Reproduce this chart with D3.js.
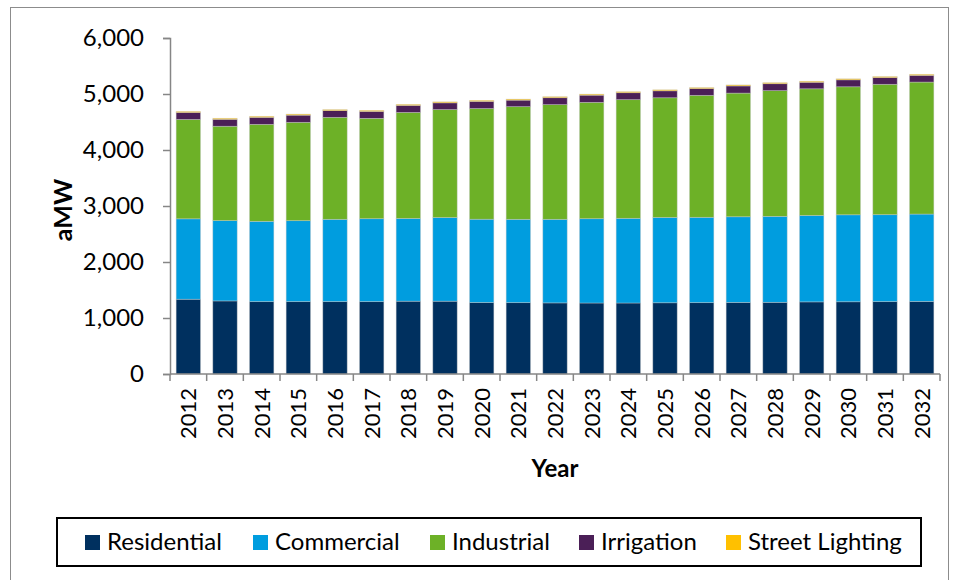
<!DOCTYPE html>
<html>
<head>
<meta charset="utf-8">
<script src="https://cdn.jsdelivr.net/npm/d3@7"></script>
<style>
  html, body { margin: 0; padding: 0; background: #fff; }
  svg { display: block; }
  text { font-family: Lato, "Open Sans", sans-serif; fill: #000; }
</style>
</head>
<body>
<svg id="chart" width="958" height="580"></svg>
<script>
const years = [2012,2013,2014,2015,2016,2017,2018,2019,2020,2021,2022,2023,2024,2025,2026,2027,2028,2029,2030,2031,2032];
const seriesNames = ["Residential","Commercial","Industrial","Irrigation","Street Lighting"];
const residential = [1335,1305,1292,1292,1292,1292,1300,1300,1276,1274,1270,1268,1268,1272,1274,1278,1280,1288,1290,1292,1296];
const commercial  = [1436,1434,1434,1446,1470,1481,1478,1494,1488,1488,1492,1505,1512,1524,1524,1530,1535,1543,1553,1553,1560];
const industrial  = [1775,1685,1732,1756,1821,1792,1893,1928,1976,2012,2048,2078,2119,2137,2178,2208,2245,2262,2286,2328,2357];
const irrigation  = [124,124,125,128,120,124,125,120,128,116,124,128,124,124,120,128,124,116,124,120,120];
const streetLighting = [18,18,18,18,18,18,18,18,18,18,18,18,18,18,18,18,18,18,18,18,18];
const yTicks = [0,1000,2000,3000,4000,5000,6000];
const colors = ["#00305f","#009ddf","#6db127","#4b1f57","#ffc000"];

const svg = d3.select("#chart");

// outer border
svg.append("rect").attr("x",10.5).attr("y",7.5).attr("width",938).attr("height",580)
  .attr("fill","none").attr("stroke","#8c8c8c").attr("stroke-width",1);

const pLeft = 170, pRight = 940, pTop = 38, pBottom = 374;
const x = d3.scaleBand().domain(years).range([pLeft, pRight]).paddingInner(0.335).paddingOuter(0.1675);
const y = d3.scaleLinear().domain([0, 6000]).range([pBottom, pTop]);

const table = years.map((yr, i) => ({
  year: yr,
  "Residential": residential[i],
  "Commercial": commercial[i],
  "Industrial": industrial[i],
  "Irrigation": irrigation[i],
  "Street Lighting": streetLighting[i]
}));
const stacked = d3.stack().keys(seriesNames)(table);

const gBars = svg.append("g");
stacked.forEach((layer, li) => {
  gBars.append("g").attr("fill", colors[li])
    .selectAll("rect").data(layer).join("rect")
    .attr("x", d => x(d.data.year))
    .attr("width", x.bandwidth())
    .attr("y", d => y(d[1]))
    .attr("height", d => y(d[0]) - y(d[1]))
    .attr("stroke", "rgba(200,200,200,0.55)")
    .attr("stroke-width", 0.75);
});

// Y axis
const yAxis = d3.axisLeft(y).tickValues(yTicks).tickFormat(d3.format(",")).tickSize(7).tickPadding(19);
const gy = svg.append("g").attr("transform", `translate(${pLeft},0)`).call(yAxis);
gy.select(".domain").attr("stroke", "#868686").attr("stroke-width", 1.5);
gy.selectAll(".tick line").attr("stroke", "#868686").attr("stroke-width", 1.5);
gy.selectAll(".tick text").style("font-family", "Lato, sans-serif").style("font-size", "24px").attr("fill", "#000");

// X axis with ticks at category boundaries
const xAxisG = svg.append("g").attr("transform", `translate(0,${pBottom})`);
xAxisG.append("line").attr("x1", pLeft).attr("x2", pRight).attr("y1", 0).attr("y2", 0)
  .attr("stroke", "#868686").attr("stroke-width", 1.5);
const step = x.step();
d3.range(years.length + 1).forEach(i => {
  const xp = pLeft + i * step;
  xAxisG.append("line").attr("x1", xp).attr("x2", xp).attr("y1", 0).attr("y2", 7)
    .attr("stroke", "#868686").attr("stroke-width", 1.5);
});
xAxisG.selectAll("text.xl").data(years).join("text").attr("class", "xl")
  .attr("transform", d => `translate(${x(d) + x.bandwidth() / 2 + 8},14) rotate(-90)`)
  .attr("text-anchor", "end")
  .style("font-size", "22px")
  .text(d => d);

// axis titles
svg.append("text").attr("transform", "translate(72,210) rotate(-90)")
  .attr("text-anchor", "middle").style("font-size", "25px").style("font-weight", "bold").text("aMW");
svg.append("text").attr("x", 555).attr("y", 477)
  .attr("text-anchor", "middle").style("font-size", "24px").style("font-weight", "bold").text("Year");

// legend
const legend = svg.append("g");
legend.append("rect").attr("x", 57).attr("y", 518).attr("width", 864).attr("height", 48)
  .attr("fill", "#fff").attr("stroke", "#000").attr("stroke-width", 2);
const legX = [85, 253, 430, 579, 726];
seriesNames.forEach((name, i) => {
  legend.append("rect").attr("x", legX[i]).attr("y", 535).attr("width", 15).attr("height", 15).attr("fill", colors[i]);
  legend.append("text").attr("x", legX[i] + 22).attr("y", 550).style("font-size", "24px").text(name);
});
</script>
</body>
</html>
